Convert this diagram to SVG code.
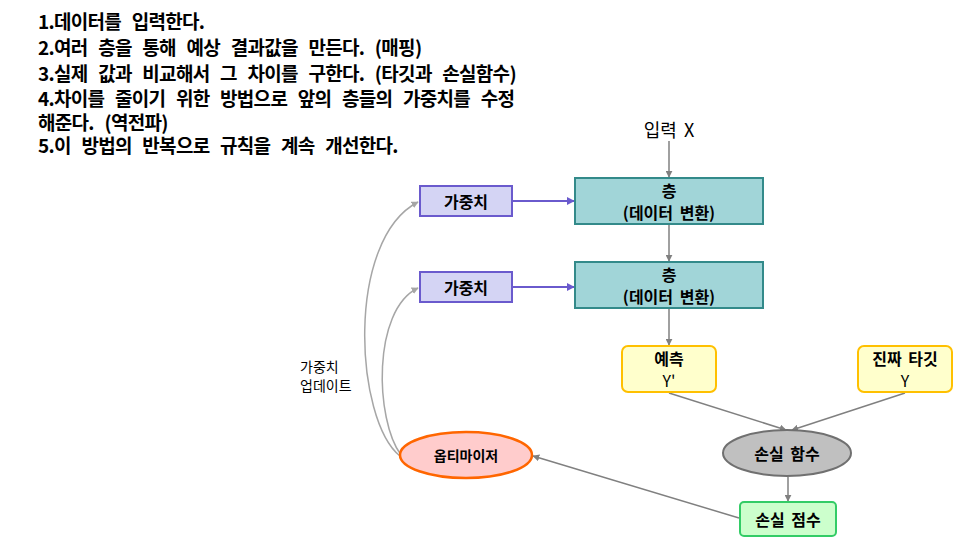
<svg xmlns="http://www.w3.org/2000/svg" width="960" height="546" viewBox="0 0 960 546">
<style>
text{font-family:"Noto Sans CJK KR","Noto Sans",sans-serif;fill:#000;}
.t{font-size:19px;font-weight:bold;letter-spacing:-0.7px;word-spacing:7px;}
.n{font-size:16px;font-weight:bold;text-anchor:middle;dominant-baseline:central;word-spacing:3px;}
.layer{fill:#a1d5d8;stroke:#338a8a;stroke-width:2;}
.w{fill:#d4d4f4;stroke:#6a5acd;stroke-width:2;}
.y{fill:#ffffcc;stroke:#ffc000;stroke-width:2;}
.g{stroke:#808080;stroke-width:1.5;fill:none;}
.c{stroke:#a6a6a6;stroke-width:1.5;fill:none;}
.b{stroke:#6a5acd;stroke-width:2;fill:none;}
</style>
<defs>
<marker id="ag" viewBox="0 0 10 10" refX="9" refY="5" markerWidth="7" markerHeight="7" markerUnits="userSpaceOnUse" orient="auto"><path d="M0,0L10,5L0,10z" fill="#808080"/></marker>
<marker id="ac" viewBox="0 0 10 10" refX="9" refY="5" markerWidth="7" markerHeight="7" markerUnits="userSpaceOnUse" orient="auto"><path d="M0,0L10,5L0,10z" fill="#a6a6a6"/></marker>
<marker id="ab" viewBox="0 0 10 10" refX="9" refY="5" markerWidth="8" markerHeight="8" markerUnits="userSpaceOnUse" orient="auto"><path d="M0,0L10,5L0,10z" fill="#6a5acd"/></marker>
</defs>
<rect width="960" height="546" fill="#fff"/>
<g id="steps" class="t">
<text x="38" y="29">1.데이터를 입력한다.</text>
<text x="38" y="55">2.여러 층을 통해 예상 결과값을 만든다. (매핑)</text>
<text x="38" y="81">3.실제 값과 비교해서 그 차이를 구한다. (타깃과 손실함수)</text>
<text x="38" y="106">4.차이를 줄이기 위한 방법으로 앞의 층들의 가중치를 수정</text>
<text x="38" y="130">해준다. (역전파)</text>
<text x="38" y="153">5.이 방법의 반복으로 규칙을 계속 개선한다.</text>
</g>
<g id="connectors">
<line class="g" x1="669" y1="141" x2="669" y2="177" marker-end="url(#ag)"/>
<line class="g" x1="669" y1="225" x2="669" y2="261" marker-end="url(#ag)"/>
<line class="g" x1="669" y1="309" x2="669" y2="345" marker-end="url(#ag)"/>
<line class="b" x1="513" y1="201" x2="574" y2="201" marker-end="url(#ab)"/>
<line class="b" x1="513" y1="287" x2="574" y2="287" marker-end="url(#ab)"/>
<line class="g" x1="669" y1="393" x2="786" y2="430" marker-end="url(#ag)"/>
<line class="g" x1="905" y1="393" x2="792" y2="430" marker-end="url(#ag)"/>
<line class="g" x1="788" y1="477" x2="788" y2="501" marker-end="url(#ag)"/>
<line class="g" x1="739" y1="518" x2="533" y2="456" marker-end="url(#ag)"/>
<path class="c" d="M400,456 C355,420 345,240 418,202" marker-end="url(#ac)"/>
<path class="c" d="M401,455 C375,420 372,310 418,288" marker-end="url(#ac)"/>
</g>
<g id="input"><text x="669" y="129" style="font-size:18px;text-anchor:middle;dominant-baseline:central;word-spacing:3px">입력 X</text></g>
<g id="layer1"><rect class="layer" x="575" y="178" width="188" height="46"/><text class="n" x="669" y="190">층</text><text class="n" x="669" y="212">(데이터 변환)</text></g>
<g id="layer2"><rect class="layer" x="575" y="262" width="188" height="46"/><text class="n" x="669" y="274">층</text><text class="n" x="669" y="296">(데이터 변환)</text></g>
<g id="weight1"><rect class="w" x="420" y="186" width="92" height="30"/><text class="n" x="466" y="201">가중치</text></g>
<g id="weight2"><rect class="w" x="420" y="272" width="92" height="30"/><text class="n" x="466" y="287">가중치</text></g>
<g id="pred"><rect class="y" x="622" y="346" width="94" height="46" rx="6"/><text class="n" x="669" y="358">예측</text><text class="n" x="669" y="380" style="font-weight:normal">Y'</text></g>
<g id="target"><rect class="y" x="858" y="346" width="94" height="46" rx="6"/><text class="n" x="905" y="358">진짜 타깃</text><text class="n" x="905" y="380" style="font-weight:normal">Y</text></g>
<g id="loss"><ellipse cx="787" cy="453" rx="64" ry="23" fill="#c0c0c0" stroke="#707070" stroke-width="2"/><text class="n" x="787" y="453">손실 함수</text></g>
<g id="score"><rect x="740" y="502" width="96" height="34" rx="4" fill="#ccffcc" stroke="#33cc66" stroke-width="2"/><text class="n" x="788" y="519">손실 점수</text></g>
<g id="optimizer"><ellipse cx="466" cy="455" rx="66" ry="23" fill="#ffcccc" stroke="#ff6600" stroke-width="2.5"/><text class="n" x="466" y="455" style="font-size:14px">옵티마이저</text></g>
<g id="update-label" style="font-size:14px">
<text x="300" y="372">가중치</text>
<text x="300" y="391">업데이트</text>
</g>
</svg>
